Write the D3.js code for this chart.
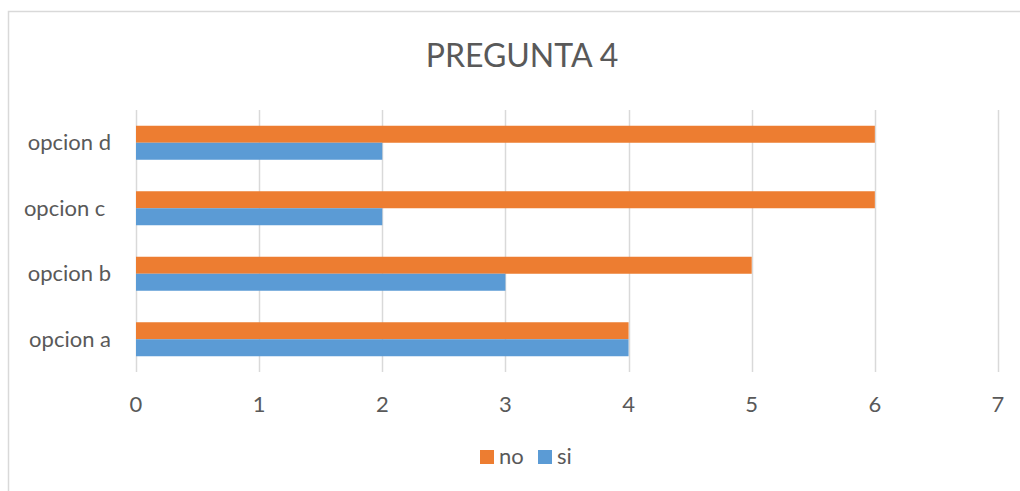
<!DOCTYPE html>
<html>
<head>
<meta charset="utf-8">
<script src="https://cdn.jsdelivr.net/npm/d3@7"></script>
<style>
  body { margin: 0; background: #fff; }
  text { font-family: Lato, "Open Sans", sans-serif; fill: #595959; white-space: pre; }
</style>
</head>
<body>
<div id="chart"></div>
<script>
// Chart data
const categories = ["opcion a", "opcion b", "opcion c ", "opcion d"];
const seriesNames = ["no", "si"];
const noValues = [4, 5, 6, 6];
const siValues = [4, 3, 2, 2];
const xTicks = [0, 1, 2, 3, 4, 5, 6, 7];
const colors = { no: "#ED7D31", si: "#5B9BD5" };

const width = 1020, height = 491;
const plot = { left: 136, right: 998, top: 110, bottom: 372 };

const svg = d3.select("#chart")
    .append("svg")
    .attr("width", width)
    .attr("height", height);

// Chart border (runs off the right and bottom edge)
svg.append("rect")
    .attr("x", 8.5)
    .attr("y", 11.5)
    .attr("width", 1040)
    .attr("height", 500)
    .attr("fill", "none")
    .attr("stroke", "#D9D9D9")
    .attr("stroke-width", 1.5);

// Title
svg.append("text")
    .attr("x", 522)
    .attr("y", 67)
    .attr("text-anchor", "middle")
    .style("font-size", "32px")
    .text("PREGUNTA 4");

const x = d3.scaleLinear().domain([0, 7]).range([plot.left, plot.right]);

// bottom-to-top: opcion a at the bottom
const y = d3.scaleBand()
    .domain(categories.slice().reverse())
    .range([plot.top, plot.bottom]);

const barH = 17;

// Gridlines
svg.append("g")
    .selectAll("line")
    .data(xTicks)
    .join("line")
    .attr("x1", d => Math.round(x(d)) + 0.5)
    .attr("x2", d => Math.round(x(d)) + 0.5)
    .attr("y1", plot.top)
    .attr("y2", plot.bottom)
    .attr("stroke", "#D9D9D9")
    .attr("stroke-width", 1.5);

// Bars
const rows = categories.map((c, i) => ({ cat: c, no: noValues[i], si: siValues[i] }));

const group = svg.append("g")
    .selectAll("g")
    .data(rows)
    .join("g")
    .attr("transform", d => `translate(0,${y(d.cat) + y.bandwidth() / 2})`);

group.append("rect")
    .attr("x", x(0))
    .attr("y", -barH)
    .attr("width", d => x(d.no) - x(0))
    .attr("height", barH)
    .attr("fill", colors.no);

group.append("rect")
    .attr("x", x(0))
    .attr("y", 0)
    .attr("width", d => x(d.si) - x(0))
    .attr("height", barH)
    .attr("fill", colors.si);

// Category labels
svg.append("g")
    .selectAll("text")
    .data(categories)
    .join("text")
    .attr("x", 111)
    .attr("y", d => y(d) + y.bandwidth() / 2)
    .attr("dy", "0.35em")
    .attr("text-anchor", "end")
    .style("font-size", "22px")
    .text(d => d);

// X tick labels
svg.append("g")
    .selectAll("text")
    .data(xTicks)
    .join("text")
    .attr("x", d => x(d))
    .attr("y", 412)
    .attr("text-anchor", "middle")
    .style("font-size", "22px")
    .text(d => d);

// Legend
const legendX = [480, 538];
const legend = svg.append("g")
    .selectAll("g")
    .data(seriesNames)
    .join("g")
    .attr("transform", (d, i) => `translate(${legendX[i]},450)`);

legend.append("rect")
    .attr("width", 14)
    .attr("height", 14)
    .attr("fill", d => colors[d]);

legend.append("text")
    .attr("x", 19)
    .attr("y", 14)
    .style("font-size", "22px")
    .text(d => d);
</script>
</body>
</html>
